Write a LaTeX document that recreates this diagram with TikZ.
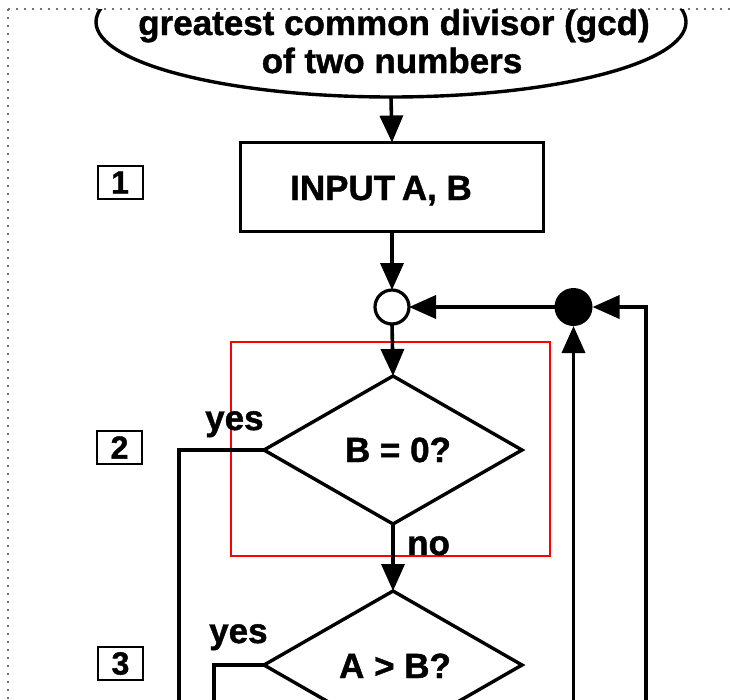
\documentclass[tikz,border=0pt]{standalone}
\usepackage{fontspec}
\setmainfont{Liberation Sans}[BoldFeatures={FakeBold=1.2}]
\usetikzlibrary{shapes.geometric,arrows.meta}
\begin{document}
\begin{tikzpicture}[x=1pt,y=-1pt,
  flow/.style={line width=3.6pt, line join=miter},
  arr/.style={flow,-{Triangle[length=27pt,width=23pt]}},
  txt/.style={font=\bfseries\fontsize{35}{38}\selectfont, inner sep=0pt, anchor=base},
  titletxt/.style={font=\bfseries\fontsize{35}{38}\selectfont, inner sep=0pt, anchor=base},
  numbox/.style={draw, line width=2pt, minimum width=45pt, minimum height=33pt, inner sep=0pt,
    font=\bfseries\fontsize{32}{34}\selectfont},
  decision/.style={draw, diamond, line width=3.4pt, inner sep=0pt, outer sep=0pt,
    minimum width=258pt, minimum height=148pt},
  frame/.style={black!55, line width=1.6pt, dash pattern=on 1.6pt off 6.4pt}
]
\useasboundingbox (0,0) rectangle (730,699);

% page frame
\draw[frame] (8,9) -- (730,9);
\draw[frame] (8,9) -- (8,699);

\begin{scope}
\clip (0,9.5) rectangle (730,699);

% terminal
\node[draw, ellipse, line width=3.4pt, outer sep=0pt, minimum width=590pt, minimum height=150pt] (start) at (391,22) {};
\node[titletxt] (title1) at (394,35) {greatest common divisor (gcd)};
\node[titletxt] (title2) at (392,73) {of two numbers};

% input
\node[draw, line width=3.4pt, outer sep=0pt, minimum width=303pt, minimum height=89pt] (input) at (392,187) {};
\node[txt] (inputtxt) at (381,200) {INPUT\kern-3pt\ A, B};

% connector points
\node[draw, circle, line width=3.2pt, outer sep=0pt, minimum size=34pt, inner sep=0pt] (j1) at (392,307) {};
\node[fill, circle, outer sep=0pt, minimum size=38pt, inner sep=0pt] (j2) at (573.5,307) {};

% decisions
\node[decision] (d1) at (393,450) {};
\node[txt] (d1txt) at (398,462) {B = 0?};
\node[decision] (d2) at (393,665) {};
\node[txt] (d2txt) at (395,678) {A > B?};

% step numbers
\node[numbox] (n1) at (120,182.5) {1};
\node[numbox] (n2) at (119.5,447.5) {2};
\node[numbox] (n3) at (120.5,663.5) {3};

% highlight
\node[draw=red, line width=1.5pt, minimum width=319pt, minimum height=214pt, inner sep=0pt] (focus) at (390.5,449) {};

% branch labels
\node[txt, anchor=base west] (yes1) at (205,430) {yes};
\node[txt, anchor=base west] (yes2) at (209,643) {yes};
\node[txt, anchor=base west] (no1) at (407,555) {no};

% loose ends below the visible part
\coordinate (y1e) at (179,710);
\coordinate (y2e) at (214,710);
\coordinate (r1e) at (646,710);
\coordinate (r2e) at (573.5,710);

% connectors
\draw[arr] (start.south) -- (input.north);
\draw[arr] (input.south) -- (j1.north);
\draw[arr] (j1.south) -- (d1.north);
\draw[arr] (d1.south) -- (d2.north);
\draw[arr] (j2.west) -- (j1.east);
\draw[arr] (r1e) |- (j2.east);
\draw[arr] (r2e) -- (j2.south);
\draw[flow] (d1.west) -| (y1e);
\draw[flow] (d2.west) -| (y2e);
\end{scope}
\end{tikzpicture}
\end{document}
